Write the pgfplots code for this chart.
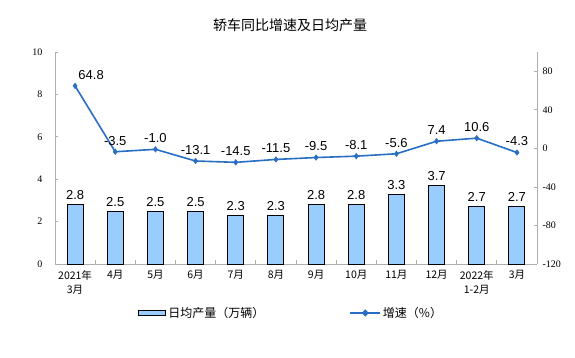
\documentclass[border=0pt]{standalone}
\usepackage{pgfplots}
\pgfplotsset{compat=1.18}
\usepackage{fontspec}
\setmainfont{Liberation Sans}
\newfontfamily\cjk{Noto Sans CJK SC}
\newfontfamily\tms{Liberation Serif}
\definecolor{barfill}{RGB}{153,204,255}
\definecolor{linec}{RGB}{40,110,195}
\definecolor{axgray}{RGB}{175,175,175}
\begin{document}
\begin{tikzpicture}[x=1pt,y=1pt]
\path[use as bounding box] (0,0) rectangle (575,357);
\node[font=\cjk\fontsize{14}{16}\selectfont] at (290,332) {轿车同比增速及日均产量};
\begin{axis}[
  at={(55pt,93pt)}, anchor=south west,
  scale only axis, width=482pt, height=212pt,
  xmin=-0.5, xmax=11.5, ymin=0, ymax=10,
  axis x line*=bottom, axis y line*=left,
  axis line style={draw=axgray, line width=0.8pt},
  tick align=inside,
  xtick={0,...,11},
  xticklabels={{2021年\\3月},4月,5月,6月,7月,8月,9月,10月,11月,12月,{2022年\\1-2月},3月},
  xticklabel style={font=\cjk\fontsize{10.5}{14}\selectfont, align=center, yshift=-3pt},
  minor x tick num=1,
  major x tick style={draw=none},
  minor x tick style={draw=axgray, line width=0.8pt},
  minor tick length=4pt,
  ytick={0,2,...,10},
  major y tick style={draw=axgray, line width=0.8pt},
  major tick length=3pt,
  yticklabel style={font=\tms\fontsize{10}{12}\selectfont},
  yticklabel shift=9pt,
  /pgf/number format/assume math mode=true,
  clip=false,
]
\addplot[ybar, bar width=16pt, fill=barfill, draw=black, line width=1pt,
  nodes near coords={\pgfmathprintnumber[fixed,fixed zerofill,precision=1]{\pgfplotspointmeta}},
  nodes near coords style={font=\fontsize{13}{14}\selectfont, text=black, yshift=1pt}]
coordinates {(0,2.8) (1,2.5) (2,2.5) (3,2.5) (4,2.3) (5,2.3) (6,2.8) (7,2.8) (8,3.3) (9,3.7) (10,2.7) (11,2.7)};
\end{axis}
\begin{axis}[
  at={(55pt,93pt)}, anchor=south west,
  scale only axis, width=482pt, height=212pt,
  xmin=-0.5, xmax=11.5, ymin=-120, ymax=100,
  axis x line=none, axis y line*=right,
  axis line style={draw=axgray, line width=0.8pt},
  tick align=inside,
  ytick={-120,-80,...,80},
  major y tick style={draw=axgray, line width=0.8pt},
  major tick length=3pt,
  yticklabel style={font=\tms\fontsize{10}{12}\selectfont},
  yticklabel shift=2pt,
  /pgf/number format/assume math mode=true,
  clip=false,
  legend style={at={(0.49,-0.231)}, anchor=center, draw=none, fill=none,
    legend columns=2, font=\cjk\fontsize{12}{13}\selectfont,
    /tikz/every even column/.append style={column sep=83pt},
    legend cell align=left},
]
\addlegendimage{legend image code/.code={\draw[fill=barfill, draw=black, line width=1pt] (0pt,-2.5pt) rectangle (27pt,2.5pt);}}
\addlegendentry{日均产量（万辆）}
\addplot[color=linec, line width=1.6pt, mark=diamond*, mark size=2.8pt,
  mark options={fill=linec, draw=linec, line width=0.5pt},
  legend image code/.code={\draw[color=linec, line width=1.6pt] (0pt,0pt) -- (30pt,0pt); \fill[linec] (15pt,2.5pt) -- (17.5pt,0pt) -- (15pt,-2.5pt) -- (12.5pt,0pt) -- cycle;}]
coordinates {(0,64.8) (1,-3.5) (2,-1.0) (3,-13.1) (4,-14.5) (5,-11.5) (6,-9.5) (7,-8.1) (8,-5.6) (9,7.4) (10,10.6) (11,-4.3)};
\addlegendentry{增速（\%）}
\addplot[draw=none, mark=none, forget plot,
  nodes near coords={\pgfmathprintnumber[fixed,fixed zerofill,precision=1]{\pgfplotspointmeta}},
  nodes near coords align=above,
  nodes near coords style={font=\fontsize{13}{14}\selectfont, text=black, anchor=south, yshift=3pt, xshift=16pt}]
coordinates {(0,64.8)};
\addplot[draw=none, mark=none, forget plot,
  nodes near coords={\pgfmathprintnumber[fixed,fixed zerofill,precision=1]{\pgfplotspointmeta}},
  nodes near coords align=above,
  nodes near coords style={font=\fontsize{13}{14}\selectfont, text=black, anchor=south, yshift=3pt}]
coordinates {(1,-3.5) (2,-1.0) (3,-13.1) (4,-14.5) (5,-11.5) (6,-9.5) (7,-8.1) (8,-5.6) (9,7.4) (10,10.6) (11,-4.3)};
\end{axis}
\end{tikzpicture}
\end{document}
